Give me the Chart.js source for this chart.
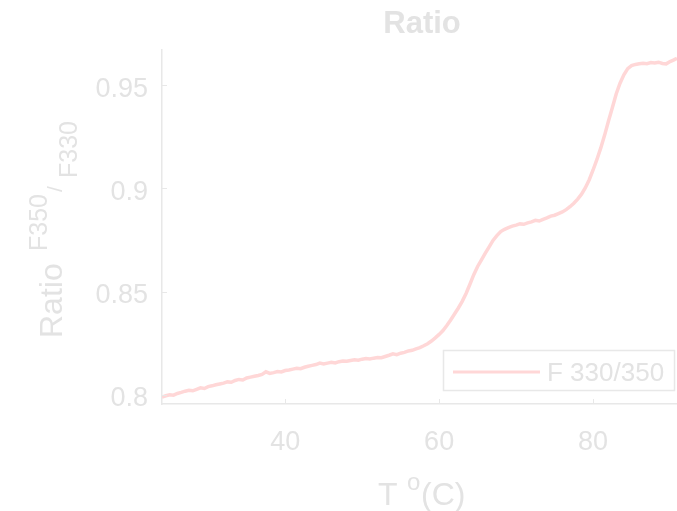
<!DOCTYPE html>
<html>
<head>
<meta charset="utf-8">
<script src="https://cdn.jsdelivr.net/npm/chart.js@4.4.1/dist/chart.umd.min.js"></script>
<style>
  html, body { margin: 0; padding: 0; background: #ffffff; overflow: hidden; }
  canvas { display: block; }
</style>
</head>
<body>
<canvas id="c" width="677" height="511"></canvas>
<script>
// ---- data ----
const chartTitle = "Ratio";
const seriesLabel = "F 330/350";
const temperature = [
  24.0,24.5,25.0,25.5,26.0,26.5,27.0,27.5,28.0,28.5,29.0,29.5,30.0,30.5,31.0,31.5,32.0,32.5,33.0,33.5,
  34.0,34.5,35.0,35.5,36.0,36.5,37.0,37.5,38.0,38.5,39.0,39.5,40.0,40.5,41.0,41.5,42.0,42.5,43.0,43.5,
  44.0,44.5,45.0,45.5,46.0,46.5,47.0,47.5,48.0,48.5,49.0,49.5,50.0,50.5,51.0,51.5,52.0,52.5,53.0,53.5,
  54.0,54.5,55.0,55.5,56.0,56.5,57.0,57.5,58.0,58.5,59.0,59.5,60.0,60.5,61.0,61.5,62.0,62.5,63.0,63.5,
  64.0,64.5,65.0,65.5,66.0,66.5,67.0,67.5,68.0,68.5,69.0,69.5,70.0,70.5,71.0,71.5,72.0,72.5,73.0,73.5,
  74.0,74.5,75.0,75.5,76.0,76.5,77.0,77.5,78.0,78.5,79.0,79.5,80.0,80.5,81.0,81.5,82.0,82.5,83.0,83.5,
  84.0,84.5,85.0,85.5,86.0,86.5,87.0,87.5,88.0,88.5,89.0,89.5,90.0,90.5,90.9
];
const ratio = [
  0.7990,0.7996,0.8001,0.7999,0.8007,0.8012,0.8018,0.8022,0.8020,0.8027,0.8034,0.8031,0.8040,0.8044,0.8049,0.8053,0.8057,0.8063,0.8061,0.8070,
  0.8075,0.8072,0.8082,0.8086,0.8090,0.8094,0.8099,0.8112,0.8104,0.8108,0.8113,0.8111,0.8118,0.8121,0.8125,0.8129,0.8127,0.8134,0.8139,0.8143,
  0.8147,0.8154,0.8150,0.8154,0.8158,0.8155,0.8161,0.8164,0.8163,0.8167,0.8170,0.8168,0.8173,0.8176,0.8174,0.8178,0.8181,0.8180,0.8186,0.8192,
  0.8199,0.8195,0.8202,0.8206,0.8213,0.8216,0.8223,0.8229,0.8238,0.8248,0.8261,0.8276,0.8293,0.8312,0.8336,0.8363,0.8392,0.8421,0.8453,0.8491,
  0.8536,0.8582,0.8622,0.8654,0.8686,0.8717,0.8748,0.8771,0.8791,0.8802,0.8810,0.8817,0.8822,0.8828,0.8826,0.8833,0.8838,0.8845,0.8842,0.8850,
  0.8857,0.8866,0.8870,0.8878,0.8886,0.8897,0.8911,0.8928,0.8948,0.8972,0.9003,0.9042,0.9089,0.9140,0.9196,0.9258,0.9326,0.9390,0.9457,0.9509,
  0.9550,0.9580,0.9594,0.9600,0.9603,0.9606,0.9604,0.9609,0.9607,0.9611,0.9605,0.9603,0.9614,0.9622,0.9630
];
const xTickValues = [40, 60, 80];
const xTickLabels = ["40", "60", "80"];
const yTickValues = [0.8, 0.85, 0.9, 0.95];
const yTickLabels = ["0.8", "0.85", "0.9", "0.95"];
const xRange = [24, 90.9];
const yRange = [0.7956, 0.967];

// ---- styles ----
const FONT = "'Liberation Sans', Arial, Helvetica, sans-serif";
const TEXT = "#e3e3e3";
const AXIS = "#e8e8e8";
const LINE = "#ffd7d7";

const points = temperature.map((t, i) => ({ x: t, y: ratio[i] }));

const decor = {
  id: "decor",
  afterDraw(chart) {
    const ctx = chart.ctx;
    const a = chart.chartArea;
    const xs = chart.scales.x, ys = chart.scales.y;
    ctx.save();
    // inward tick marks
    ctx.strokeStyle = AXIS;
    ctx.lineWidth = 1;
    xTickValues.forEach(v => {
      const px = Math.round(xs.getPixelForValue(v)) + 0.5;
      ctx.beginPath(); ctx.moveTo(px, a.bottom); ctx.lineTo(px, a.bottom - 5); ctx.stroke();
    });
    yTickValues.forEach(v => {
      const py = Math.round(ys.getPixelForValue(v)) + 0.5;
      ctx.beginPath(); ctx.moveTo(a.left, py); ctx.lineTo(a.left + 5, py); ctx.stroke();
    });

    // title
    ctx.fillStyle = TEXT;
    ctx.textBaseline = "alphabetic";
    ctx.textAlign = "center";
    ctx.font = "bold 31px " + FONT;
    ctx.fillText(chartTitle, 422, 33);

    // x axis label: T ^o (C)
    ctx.textAlign = "left";
    ctx.font = "32px " + FONT;
    ctx.fillText("T ", 378, 505);
    ctx.font = "24px " + FONT;
    ctx.fillText("o", 407, 490);
    ctx.font = "32px " + FONT;
    ctx.fillText("(C)", 421, 505);

    // y axis label: Ratio ^{F350} / _{F330}
    ctx.save();
    ctx.translate(62, 338);
    ctx.rotate(-Math.PI / 2);
    ctx.font = "32px " + FONT;
    ctx.fillText("Ratio", 0, 0);
    ctx.font = "25px " + FONT;
    ctx.fillText("F350", 87, -15);
    ctx.font = "21px " + FONT;
    ctx.fillText("/", 146, 0);
    ctx.font = "25px " + FONT;
    ctx.fillText("F330", 160, 15);
    ctx.restore();

    // legend
    const ds = chart.data.datasets[0];
    ctx.fillStyle = "#ffffff";
    ctx.fillRect(443.5, 350.5, 231, 40);
    ctx.strokeStyle = AXIS;
    ctx.lineWidth = 1.5;
    ctx.strokeRect(443.5, 350.5, 231, 40);
    ctx.strokeStyle = ds.borderColor;
    ctx.lineWidth = 3;
    ctx.beginPath(); ctx.moveTo(453, 372); ctx.lineTo(540, 372); ctx.stroke();
    ctx.fillStyle = TEXT;
    ctx.font = "26px " + FONT;
    ctx.textAlign = "left";
    ctx.fillText(ds.label, 547, 381);
    ctx.restore();
  }
};

new Chart(document.getElementById("c"), {
  type: "line",
  data: {
    datasets: [{
      label: seriesLabel,
      data: points,
      borderColor: LINE,
      backgroundColor: LINE,
      borderWidth: 3.5,
      pointRadius: 0,
      tension: 0,
      fill: false
    }]
  },
  options: {
    responsive: false,
    animation: false,
    layout: { padding: { top: 50, left: 0, right: 0, bottom: 0 } },
    plugins: {
      legend: { display: false },
      title: { display: false },
      tooltip: { enabled: false }
    },
    scales: {
      x: {
        type: "linear",
        min: xRange[0],
        max: xRange[1],
        afterBuildTicks: s => { s.ticks = xTickValues.map(v => ({ value: v })); },
        afterFit: s => { s.height = 107; },
        grid: { display: false, drawTicks: false },
        border: { display: true, color: AXIS, width: 1.5 },
        ticks: {
          color: TEXT,
          font: { family: FONT, size: 27 },
          padding: 22,
          maxRotation: 0,
          autoSkip: false,
          callback: (v) => xTickLabels[xTickValues.indexOf(v)]
        }
      },
      y: {
        type: "linear",
        min: yRange[0],
        max: yRange[1],
        afterBuildTicks: s => { s.ticks = yTickValues.map(v => ({ value: v })); },
        afterFit: s => { s.width = 162; },
        grid: { display: false, drawTicks: false },
        border: { display: true, color: AXIS, width: 1.5 },
        ticks: {
          color: TEXT,
          font: { family: FONT, size: 27 },
          padding: 14,
          labelOffset: 4,
          autoSkip: false,
          callback: (v) => yTickLabels[yTickValues.indexOf(v)]
        }
      }
    }
  },
  plugins: [decor]
});
</script>
</body>
</html>
